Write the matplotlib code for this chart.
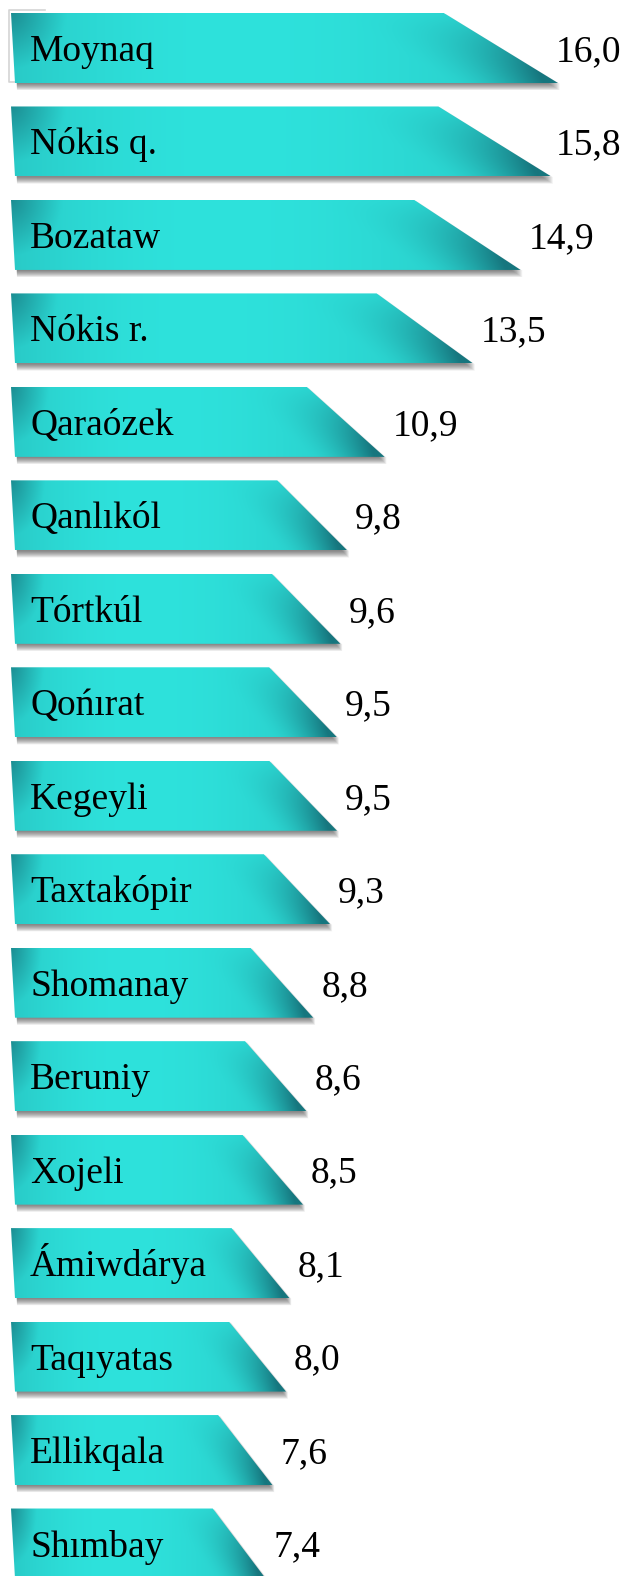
import numpy as np
import matplotlib
matplotlib.use("Agg")
import matplotlib.pyplot as plt
from matplotlib.patches import Polygon

# districts, top to bottom
districts = ["Moynaq", "Nókis q.", "Bozataw", "Nókis r.", "Qaraózek", "Qanlıkól",
             "Tórtkúl", "Qońırat", "Kegeyli", "Taxtakópir", "Shomanay", "Beruniy",
             "Xojeli", "Ámiwdárya", "Taqıyatas", "Ellikqala", "Shımbay"]
values = [16.0, 15.8, 14.9, 13.5, 10.9, 9.8, 9.6, 9.5, 9.5, 9.3, 8.8, 8.6,
          8.5, 8.1, 8.0, 7.6, 7.4]

plt.rcParams['font.family'] = ['Liberation Serif', 'DejaVu Serif']

fig = plt.figure(figsize=(6.23, 15.76), dpi=100)
ax = fig.add_axes([0, 0, 1, 1])
ax.axis("off")

# pixel helpers (bar pitch ~93.5 px, 34 px per unit)
px_y = 1 / 93.47
px_x = 1 / 34.0
h = 35 * px_y          # half bar height
top_frac = 0.79        # top edge length relative to bottom edge

light = np.array([46, 226, 220]) / 255.0
dark = np.array([22, 118, 126]) / 255.0


def bar_colors(v, nx=240, ny=70):
    '''gradient: bright in the middle, darker at left and at the cut tip'''
    u = np.linspace(0, 1, nx)[None, :]
    t = np.linspace(0, 1, ny)[:, None]
    s = np.where(u > 0.4, ((u - 0.4) / 0.6) ** 2, 0.8 * ((0.4 - u) / 0.4) ** 2)
    edge = top_frac + (1 - top_frac) * t
    de = edge - u
    tip = np.clip(1 - de / 0.2, 0, 1) ** 1.8 * t ** 1.3
    corner = np.clip(1 - np.sqrt((u / 0.1) ** 2 + (t / 0.8) ** 2), 0, 1) * 0.55
    k = np.clip(0.28 * s + 0.95 * tip + corner, 0, 1)[..., None]
    rgb = light * (1 - k) + dark * k
    return rgb


for i, (name, v) in enumerate(zip(districts, values)):
    pts = [(-3 * px_x, i - h), (top_frac * v, i - h), (v, i + h), (1 * px_x, i + h)]

    # soft drop shadow
    for k in range(1, 8):
        sp = [(x + 2 * px_x, y + k * px_y) for x, y in pts]
        ax.add_patch(Polygon(sp, closed=True, facecolor="#303030",
                             edgecolor="none", alpha=0.11, zorder=1))

    poly = Polygon(pts, closed=True, facecolor="none", edgecolor="none", zorder=2)
    ax.add_patch(poly)
    img = ax.imshow(bar_colors(v), extent=(-3 * px_x, v, i + h, i - h),
                    origin="upper", aspect="auto", interpolation="bilinear", zorder=2)
    img.set_clip_path(poly)

    ax.text(16 * px_x, i + 13 * px_y, name, fontsize=27, color="black",
            ha="left", va="baseline", zorder=3)
    label = ("%.1f" % v).replace(".", ",")
    lx = min(v + 8 * px_x, 542 * px_x)
    ax.text(lx, i + 13 * px_y, label, fontsize=27, color="black",
            ha="left", va="baseline", zorder=3)

# faint frame left over around the first label
ax.plot([31 * px_x, -5 * px_x, -5 * px_x, 31 * px_x],
        [-38 * px_y, -38 * px_y, 34 * px_y, 34 * px_y],
        color="#d4d4d4", lw=1.2, zorder=1.5)

ax.set_xlim(-14 * px_x, (623 - 14) * px_x)
ax.set_ylim(1528 * px_y, -48 * px_y)

plt.savefig("out.png", dpi=100)
